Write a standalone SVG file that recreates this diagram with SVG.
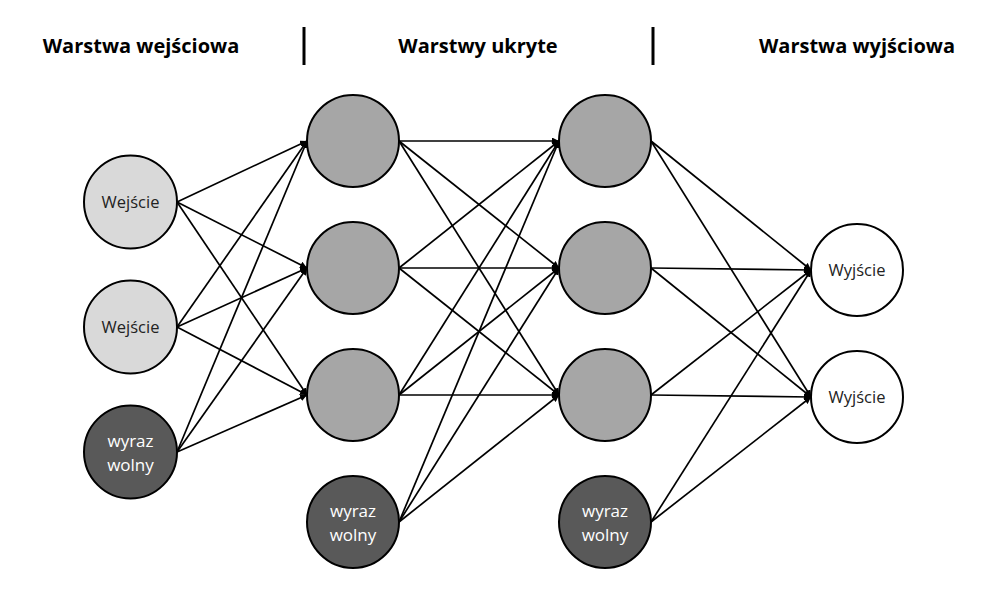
<svg xmlns="http://www.w3.org/2000/svg" width="1000" height="600" viewBox="0 0 1000 600">
<style>
.hdr{font-family:"Open Sans","DejaVu Sans",sans-serif;font-weight:bold;font-size:20px;fill:#000;text-anchor:middle}
.lbl{font-family:"Open Sans","DejaVu Sans",sans-serif;font-size:16.5px;text-anchor:middle;fill:#222}
.lblw{font-family:"Open Sans","DejaVu Sans",sans-serif;font-size:17px;text-anchor:middle;fill:#fff}
.n{stroke:#000;stroke-width:2}
.in{fill:#d9d9d9}.hid{fill:#a6a6a6}.bias{fill:#595959}.out{fill:#fff}
.e{stroke:#000;stroke-width:1.7;fill:none;marker-end:url(#ah)}
.div{stroke:#000;stroke-width:3}
</style>
<defs>
<marker id="ah" viewBox="0 0 10 10" refX="10" refY="5" markerWidth="7" markerHeight="7" markerUnits="userSpaceOnUse" orient="auto">
<path d="M0,0 L10,5 L0,10 z" fill="#000"/>
</marker>
</defs>
<rect width="1000" height="600" fill="#fff"/>
<g id="headers">
<text class="hdr" x="141" y="53">Warstwa wejściowa</text>
<text class="hdr" x="478" y="53">Warstwy ukryte</text>
<text class="hdr" x="857" y="53">Warstwa wyjściowa</text>
<line class="div" x1="304" y1="27" x2="304" y2="65"/>
<line class="div" x1="653" y1="27" x2="653" y2="65"/>
</g>
<g id="connectors">
<line class="e" x1="177" y1="202" x2="307" y2="141"/>
<line class="e" x1="177" y1="202" x2="307" y2="268"/>
<line class="e" x1="177" y1="202" x2="307" y2="395"/>
<line class="e" x1="177" y1="327" x2="307" y2="141"/>
<line class="e" x1="177" y1="327" x2="307" y2="268"/>
<line class="e" x1="177" y1="327" x2="307" y2="395"/>
<line class="e" x1="177" y1="452" x2="307" y2="141"/>
<line class="e" x1="177" y1="452" x2="307" y2="268"/>
<line class="e" x1="177" y1="452" x2="307" y2="395"/>
<line class="e" x1="399" y1="141" x2="559" y2="141"/>
<line class="e" x1="399" y1="141" x2="559" y2="268"/>
<line class="e" x1="399" y1="141" x2="559" y2="395"/>
<line class="e" x1="399" y1="268" x2="559" y2="141"/>
<line class="e" x1="399" y1="268" x2="559" y2="268"/>
<line class="e" x1="399" y1="268" x2="559" y2="395"/>
<line class="e" x1="399" y1="395" x2="559" y2="141"/>
<line class="e" x1="399" y1="395" x2="559" y2="268"/>
<line class="e" x1="399" y1="395" x2="559" y2="395"/>
<line class="e" x1="399" y1="522" x2="559" y2="141"/>
<line class="e" x1="399" y1="522" x2="559" y2="268"/>
<line class="e" x1="399" y1="522" x2="559" y2="395"/>
<line class="e" x1="651" y1="141" x2="811" y2="270"/>
<line class="e" x1="651" y1="141" x2="811" y2="397"/>
<line class="e" x1="651" y1="268" x2="811" y2="270"/>
<line class="e" x1="651" y1="268" x2="811" y2="397"/>
<line class="e" x1="651" y1="395" x2="811" y2="270"/>
<line class="e" x1="651" y1="395" x2="811" y2="397"/>
<line class="e" x1="651" y1="522" x2="811" y2="270"/>
<line class="e" x1="651" y1="522" x2="811" y2="397"/>
</g>
<g id="in1"><circle class="n in" cx="130.5" cy="202" r="46.5"/><text class="lbl" x="130.5" y="208">Wejście</text></g>
<g id="in2"><circle class="n in" cx="130.5" cy="327" r="46.5"/><text class="lbl" x="130.5" y="333">Wejście</text></g>
<g id="inb"><circle class="n bias" cx="130.5" cy="452" r="46.5"/><text class="lblw" x="130.5" y="447">wyraz</text><text class="lblw" x="130.5" y="471">wolny</text></g>
<g id="h11"><circle class="n hid" cx="353" cy="141" r="46"/></g>
<g id="h12"><circle class="n hid" cx="353" cy="268" r="46"/></g>
<g id="h13"><circle class="n hid" cx="353" cy="395" r="46"/></g>
<g id="h1b"><circle class="n bias" cx="353" cy="522" r="46"/><text class="lblw" x="353" y="517">wyraz</text><text class="lblw" x="353" y="541">wolny</text></g>
<g id="h21"><circle class="n hid" cx="605" cy="141" r="46"/></g>
<g id="h22"><circle class="n hid" cx="605" cy="268" r="46"/></g>
<g id="h23"><circle class="n hid" cx="605" cy="395" r="46"/></g>
<g id="h2b"><circle class="n bias" cx="605" cy="522" r="46"/><text class="lblw" x="605" y="517">wyraz</text><text class="lblw" x="605" y="541">wolny</text></g>
<g id="o1"><circle class="n out" cx="857" cy="270" r="46"/><text class="lbl" x="857" y="276">Wyjście</text></g>
<g id="o2"><circle class="n out" cx="857" cy="397" r="46"/><text class="lbl" x="857" y="403">Wyjście</text></g>
</svg>
